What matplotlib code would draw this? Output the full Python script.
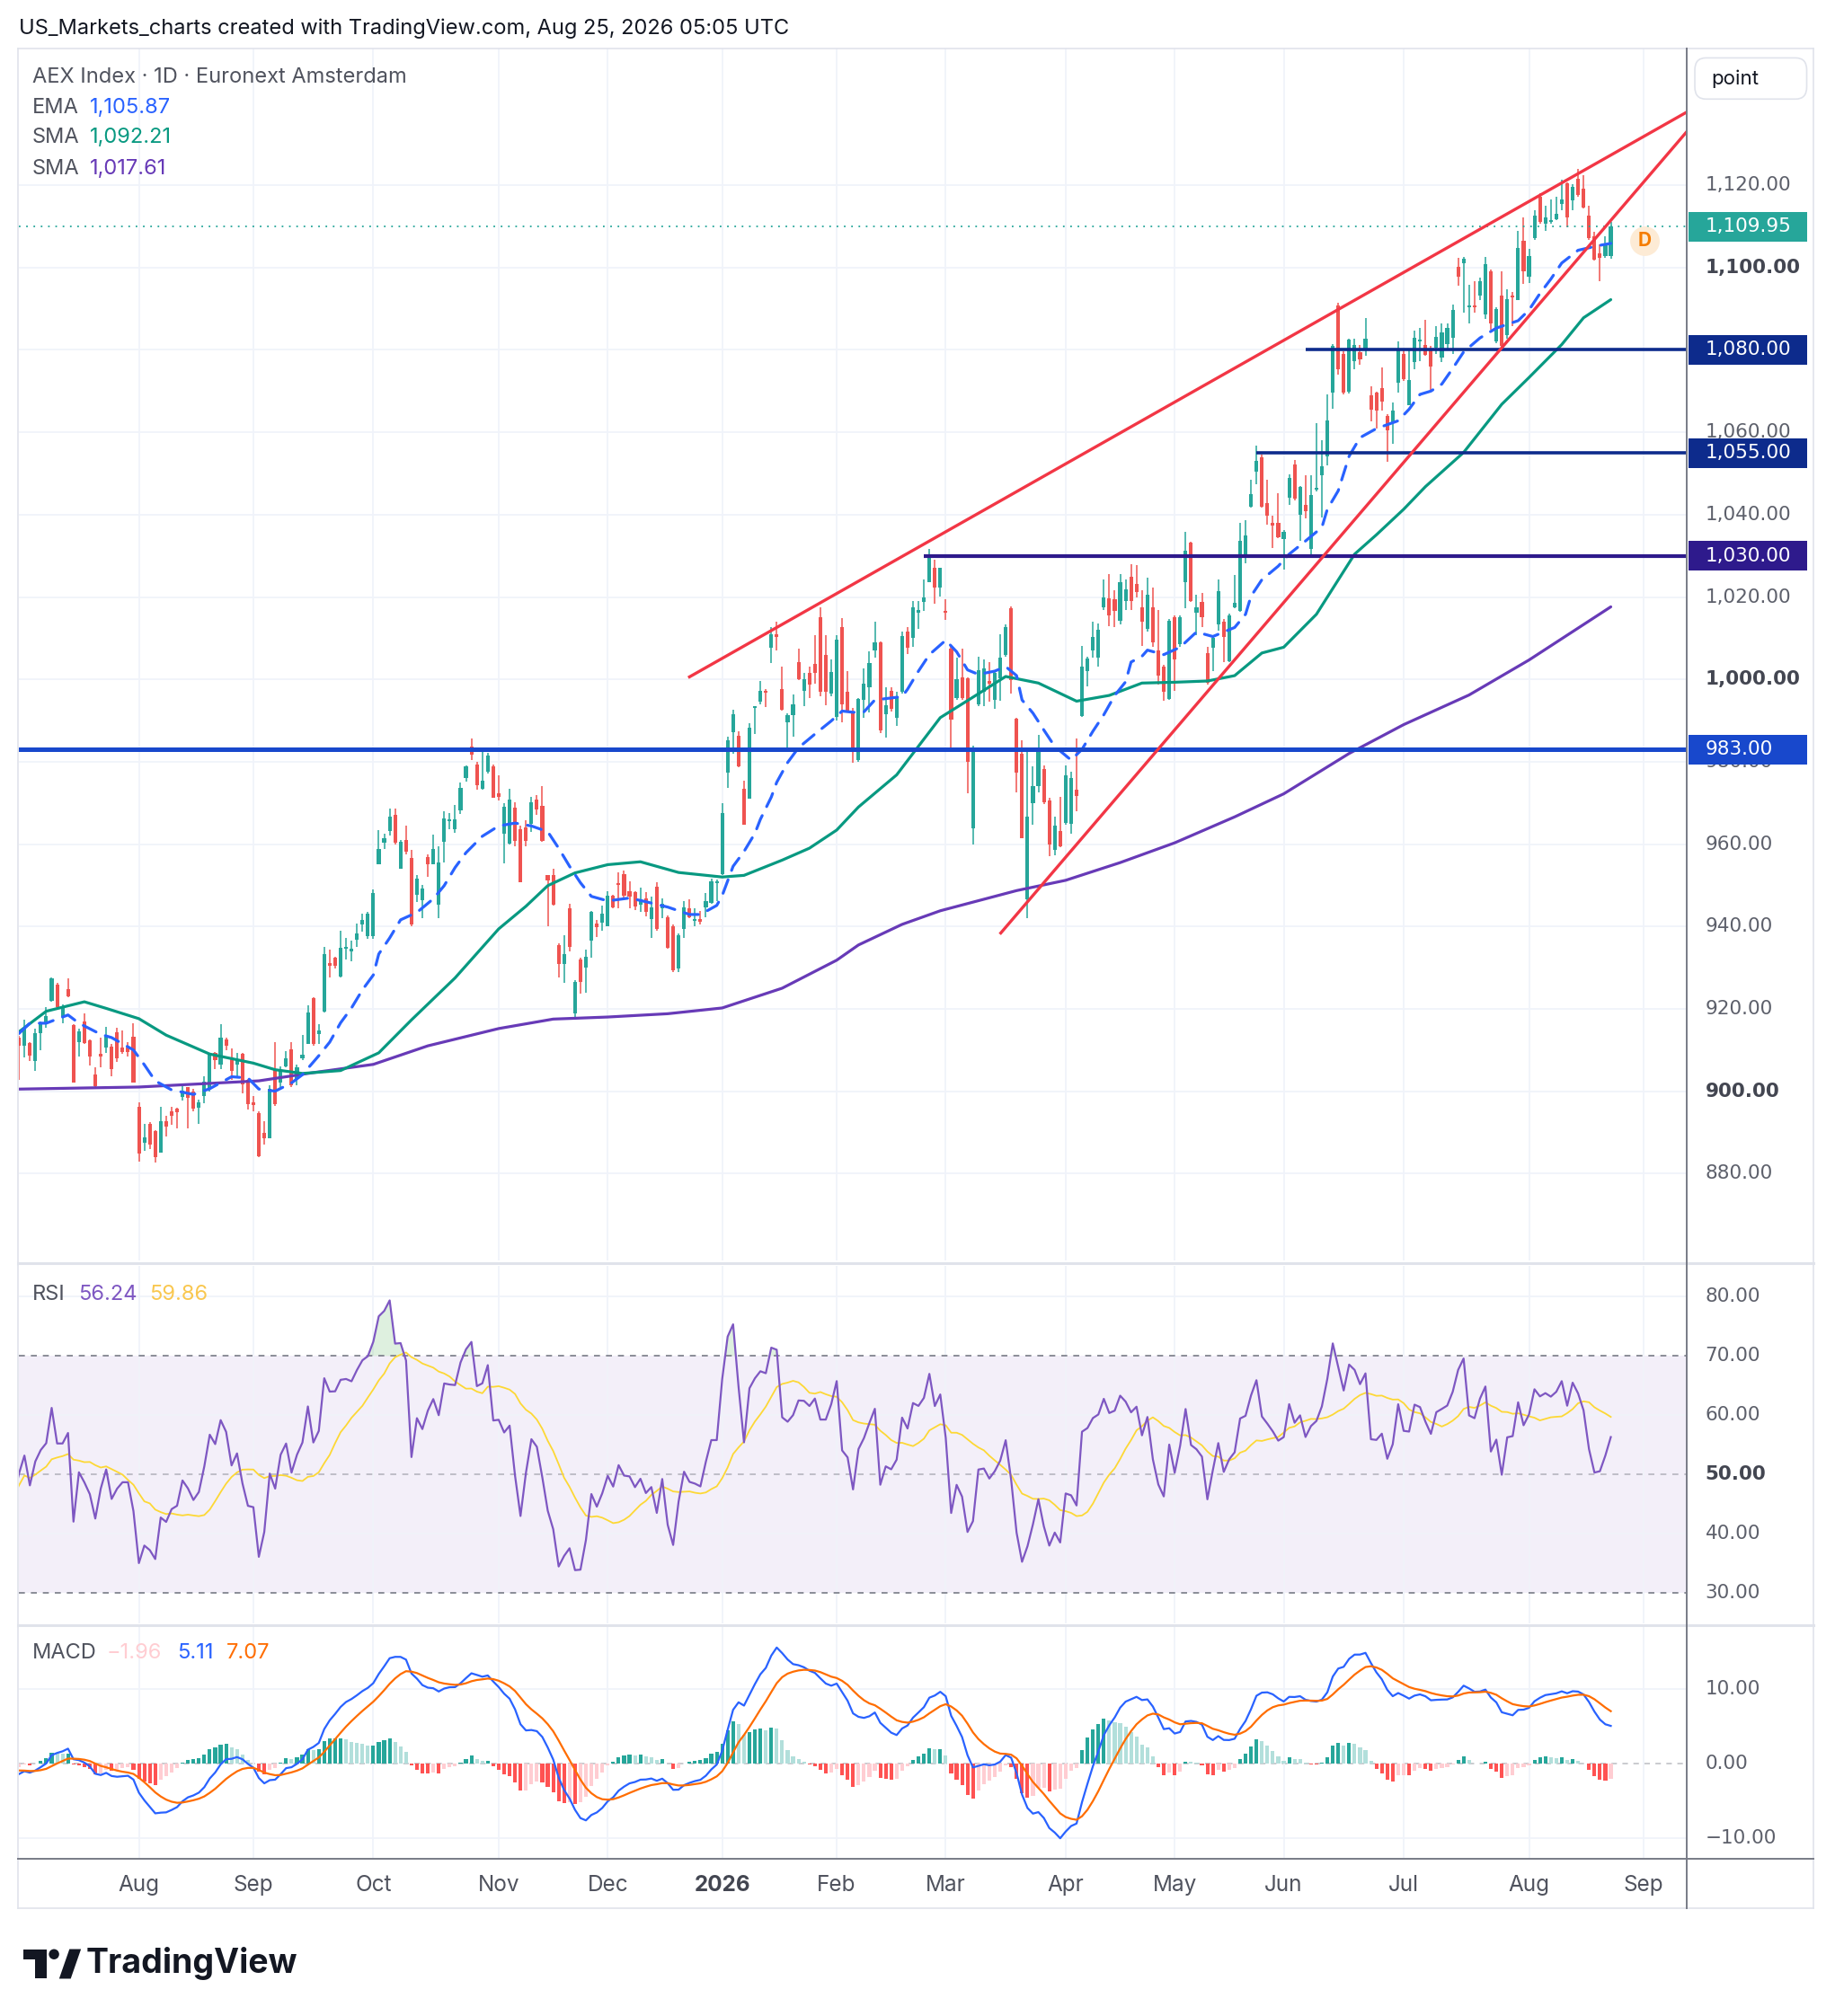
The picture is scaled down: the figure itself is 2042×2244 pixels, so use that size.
import numpy as np
import pandas as pd
import matplotlib
matplotlib.use("Agg")
import matplotlib.pyplot as plt
from matplotlib.patches import Rectangle, FancyBboxPatch, Ellipse, Polygon
from matplotlib.lines import Line2D

plt.rcParams['font.family'] = ['Inter', 'DejaVu Sans']

# daily bars, Jul 1 2025 .. Aug 24 2026 (trading-day index)
opens = [913, 912.9, 911.0, 911.7, 907.3, 914.0, 916.5, 922.0, 925.9, 918.0,
         924.8, 916.0, 912.0, 916.9, 912.3, 904.0, 909.0, 910.5, 910.9, 914.2,
         910.5, 910.5, 913.3, 896.3, 887.5, 892.0, 890.2, 885.0, 892.7, 895.2,
         895.7, 898.5, 900.9, 900.0, 896.0, 898.9, 900.3, 909.2, 906.4, 912.5,
         908.2, 906.5, 909.0, 902.8, 897.2, 894.7, 889.8, 888.6, 905.1, 902.0,
         906.0, 910.2, 903.0, 908.0, 911.5, 922.6, 913.8, 919.3, 931.0, 932.5,
         927.9, 934.5, 934.0, 936.8, 940.5, 937.7, 937.7, 955.0, 960.3, 963.1,
         967.2, 954.0, 960.9, 956.6, 947.7, 946.3, 956.8, 955.0, 945.2, 960.6,
         965.5, 963.5, 968.2, 976.0, 983.6, 979.3, 973.5, 977.6, 978.9, 972.3,
         962.6, 960.1, 968.8, 963.7, 964.0, 964.9, 970.9, 969.3, 952.5, 952.5,
         935.4, 930.9, 944.5, 918.8, 932.0, 930.1, 936.6, 940.7, 941.0, 940.1,
         947.5, 950.5, 952.8, 948.5, 948.4, 945.2, 946.9, 941.8, 949.7, 944.5,
         942.2, 940.0, 929.8, 939.3, 944.4, 941.3, 941.8, 944.6, 945.8, 950.5,
         952.8, 977.4, 987.1, 986.2, 973.4, 971.0, 993.0, 994.5, 997.0, 1007.7,
         1010.6, 997.7, 989.5, 991.3, 1004.2, 997.3, 1001.5, 1003.7, 1015.0, 1006.0,
         996.5, 990.9, 1012.6, 996.9, 992.1, 980.4, 995.0, 998.0, 1007.0, 1008.9,
         991.6, 997.2, 990.7, 997.0, 1011.7, 1010.0, 1016.2, 1018.8, 1023.7, 1027.0,
         1022.2, 1016.6, 1007.4, 995.4, 1000.5, 1000.3, 963.8, 993.9, 996.9, 999.5,
         995.0, 1000.2, 1006.0, 1017.3, 990.5, 982.0, 946.5, 970.0, 974.1, 978.2,
         970.6, 958.6, 963.1, 965.2, 965.0, 973.1, 991.0, 1002.0, 1007.0, 1005.3,
         1017.6, 1019.7, 1019.5, 1014.2, 1019.1, 1025.0, 1023.1, 1017.6, 1012.2, 1017.6,
         1007.1, 1003.1, 995.3, 1015.1, 1008.5, 1023.5, 1033.1, 1016.1, 1018.9, 1006.4,
         1007.6, 1013.3, 1013.9, 1004.5, 1017.6, 1016.7, 1029.9, 1042.0, 1050.4, 1054.0,
         1042.7, 1038.0, 1038.1, 1034.0, 1044.0, 1052.2, 1039.9, 1042.4, 1031.6, 1046.0,
         1049.6, 1054.2, 1069.6, 1090.7, 1079.0, 1069.8, 1077.3, 1079.4, 1080.2, 1069.0,
         1069.6, 1070.7, 1064.0, 1062.5, 1072.1, 1079.0, 1066.6, 1077.0, 1082.0, 1081.2,
         1080.4, 1080.5, 1078.2, 1081.4, 1082.9, 1100.2, 1101.0, 1090.3, 1090.8, 1093.3,
         1088.6, 1099.1, 1082.0, 1093.2, 1083.7, 1093.3, 1092.2, 1106.4, 1097.7, 1107.1,
         1117.3, 1110.7, 1111.0, 1111.7, 1115.4, 1120.4, 1116.4, 1121.6, 1119.2, 1112.7,
         1107.6, 1103.5, 1102.8, 1102.7]
highs = [914.5, 913.5, 917.3, 912.0, 915.2, 917.0, 920.5, 927.6, 926.2, 921.0,
         927.4, 916.3, 915.2, 918.8, 912.5, 905.7, 913.0, 915.7, 911.5, 915.4,
         914.7, 912.0, 916.5, 897.2, 892.0, 892.5, 890.5, 896.3, 894.0, 896.3,
         896.0, 901.7, 901.0, 900.5, 898.0, 903.6, 909.3, 909.5, 916.3, 913.0,
         910.4, 909.3, 909.3, 903.0, 898.8, 895.0, 892.7, 901.4, 912.0, 906.0,
         909.7, 912.0, 906.4, 913.6, 920.8, 922.8, 916.2, 935.1, 934.3, 932.6,
         938.9, 937.1, 936.5, 940.7, 943.2, 943.5, 949.0, 963.3, 962.6, 968.6,
         968.6, 961.0, 964.4, 958.6, 952.5, 950.0, 957.5, 962.3, 959.5, 967.9,
         967.5, 969.4, 975.0, 979.0, 985.6, 980.0, 982.4, 982.2, 979.3, 976.7,
         969.9, 973.5, 970.2, 964.5, 965.8, 971.5, 972.0, 974.0, 952.5, 954.0,
         936.0, 937.8, 945.6, 927.0, 932.3, 934.4, 943.8, 941.5, 945.1, 948.5,
         947.6, 953.1, 953.6, 951.0, 948.5, 949.5, 948.3, 947.3, 950.7, 946.9,
         942.6, 940.4, 938.2, 946.2, 946.6, 944.4, 943.7, 948.2, 951.7, 951.3,
         969.9, 986.0, 992.7, 987.3, 975.4, 989.3, 993.6, 999.5, 997.7, 1012.6,
         1013.9, 1003.0, 991.8, 996.4, 1007.5, 1001.6, 1003.0, 1010.8, 1017.4, 1010.8,
         1004.9, 1010.7, 1014.8, 1001.9, 993.0, 995.4, 1002.7, 1006.9, 1013.9, 1009.3,
         998.0, 998.1, 996.9, 1011.5, 1012.7, 1019.1, 1019.1, 1024.2, 1031.7, 1029.0,
         1027.2, 1019.5, 1008.2, 1005.3, 1007.4, 1000.5, 983.9, 1005.4, 1004.9, 1004.2,
         1002.0, 1011.0, 1013.3, 1017.8, 990.7, 985.1, 982.6, 978.9, 986.6, 979.0,
         971.3, 966.7, 971.5, 979.0, 977.5, 985.7, 1008.2, 1005.4, 1014.0, 1013.6,
         1024.2, 1025.5, 1021.7, 1025.5, 1024.2, 1027.9, 1027.7, 1021.6, 1024.6, 1022.4,
         1016.9, 1003.5, 1014.7, 1015.5, 1015.5, 1035.8, 1033.5, 1020.6, 1020.9, 1007.8,
         1010.4, 1024.2, 1014.7, 1016.0, 1025.3, 1037.9, 1038.6, 1048.5, 1056.7, 1054.5,
         1048.5, 1039.8, 1045.3, 1036.2, 1049.7, 1053.3, 1047.0, 1049.5, 1049.6, 1062.2,
         1058.0, 1069.2, 1081.5, 1091.4, 1079.6, 1082.7, 1082.7, 1081.2, 1087.8, 1071.1,
         1069.8, 1075.8, 1064.5, 1067.2, 1082.0, 1080.1, 1080.0, 1084.7, 1085.4, 1087.3,
         1081.0, 1085.7, 1086.5, 1086.4, 1091.1, 1102.4, 1102.6, 1095.8, 1096.6, 1097.5,
         1102.5, 1099.5, 1090.4, 1099.1, 1094.8, 1094.0, 1109.0, 1112.2, 1104.5, 1113.9,
         1118.0, 1115.1, 1116.6, 1117.1, 1121.3, 1120.6, 1120.2, 1124.0, 1122.4, 1115.1,
         1108.6, 1105.7, 1107.5, 1111.0]
lows = [904.5, 902.7, 908.2, 907.3, 905.0, 910.0, 915.5, 921.8, 920.0, 916.5,
        922.7, 902.0, 908.4, 911.5, 906.2, 901.0, 905.7, 909.2, 903.7, 907.0,
        909.0, 908.5, 902.0, 882.9, 885.5, 886.0, 882.6, 885.0, 889.0, 891.8,
        891.0, 897.8, 891.0, 895.0, 892.1, 897.0, 900.0, 905.3, 905.3, 910.0,
        902.8, 903.5, 899.5, 895.5, 895.0, 884.0, 887.0, 888.5, 896.5, 900.8,
        905.7, 901.0, 901.4, 907.5, 911.5, 911.0, 911.5, 919.0, 927.6, 929.8,
        927.6, 932.0, 931.5, 935.0, 938.7, 937.0, 937.0, 955.0, 958.8, 962.0,
        960.0, 954.0, 957.5, 940.1, 946.0, 942.0, 952.0, 955.0, 942.0, 955.6,
        963.7, 962.7, 967.3, 975.1, 980.3, 973.1, 973.3, 977.1, 971.3, 970.6,
        955.4, 960.0, 959.4, 950.7, 959.4, 963.0, 967.0, 960.5, 940.0, 945.0,
        927.5, 926.3, 934.0, 917.7, 923.6, 924.0, 932.3, 937.4, 938.9, 940.0,
        944.5, 944.4, 947.0, 944.4, 944.0, 943.6, 942.5, 937.1, 939.0, 942.0,
        934.5, 929.0, 929.0, 937.1, 942.0, 940.0, 940.4, 942.2, 945.5, 946.2,
        952.4, 973.6, 982.0, 978.7, 964.6, 971.0, 986.7, 994.0, 993.3, 1004.0,
        1007.0, 992.5, 982.3, 986.1, 999.8, 993.4, 995.5, 999.0, 995.8, 993.8,
        996.0, 989.9, 989.5, 992.0, 979.7, 980.0, 990.7, 992.0, 1005.3, 987.0,
        985.9, 992.1, 988.8, 996.5, 1006.1, 1007.8, 1012.2, 1016.6, 1023.6, 1018.4,
        1020.2, 1014.4, 983.4, 995.0, 995.0, 972.4, 960.0, 993.4, 993.6, 994.5,
        992.8, 994.7, 1005.4, 996.5, 972.6, 961.4, 942.0, 964.8, 972.5, 969.8,
        957.0, 957.2, 959.3, 964.8, 962.6, 968.0, 990.8, 998.3, 1005.3, 1003.2,
        1016.9, 1012.9, 1012.7, 1013.4, 1016.9, 1016.9, 1019.9, 1008.2, 1011.5, 1007.8,
        998.8, 994.8, 995.1, 997.3, 1007.8, 1017.3, 1018.7, 1010.7, 1012.6, 998.8,
        1002.0, 1011.8, 1004.2, 1004.2, 1017.2, 1016.5, 1028.2, 1041.6, 1047.4, 1041.7,
        1037.6, 1031.8, 1034.2, 1026.7, 1042.4, 1043.5, 1033.6, 1039.1, 1030.0, 1045.6,
        1039.4, 1052.0, 1065.6, 1074.0, 1069.2, 1069.5, 1075.4, 1076.4, 1078.5, 1062.7,
        1061.0, 1065.2, 1052.9, 1057.3, 1069.6, 1072.5, 1066.5, 1075.2, 1077.2, 1078.5,
        1070.0, 1079.1, 1077.0, 1080.0, 1079.1, 1095.5, 1089.0, 1086.4, 1089.0, 1092.0,
        1087.5, 1085.0, 1081.7, 1080.6, 1082.8, 1085.7, 1092.0, 1096.0, 1096.2, 1106.8,
        1110.7, 1109.0, 1110.7, 1111.5, 1114.0, 1109.7, 1113.9, 1117.3, 1114.3, 1106.8,
        1101.8, 1096.7, 1102.4, 1102.2]
closes = [906.0, 911.0, 915.1, 908.6, 914.0, 916.7, 918.3, 927.4, 920.5, 920.5,
          923.0, 902.1, 914.5, 911.7, 908.4, 901.2, 908.5, 913.6, 905.3, 907.9,
          909.5, 909.5, 902.1, 884.9, 888.7, 887.1, 884.0, 892.7, 891.4, 894.1,
          894.8, 900.1, 898.3, 895.7, 897.2, 902.2, 909.2, 907.5, 913.1, 911.1,
          905.0, 907.5, 901.7, 896.9, 896.6, 884.2, 888.5, 900.5, 896.9, 905.0,
          907.9, 901.4, 905.8, 908.9, 919.2, 911.5, 914.8, 933.3, 930.4, 930.5,
          934.7, 935.0, 934.6, 938.3, 941.6, 943.0, 948.1, 958.8, 961.4, 966.7,
          960.4, 960.6, 958.1, 940.4, 951.7, 949.3, 955.0, 958.8, 955.6, 966.2,
          966.0, 965.9, 973.7, 978.8, 981.8, 974.4, 975.3, 981.4, 971.3, 971.5,
          969.1, 970.8, 960.8, 950.7, 960.8, 970.2, 968.4, 960.8, 951.2, 945.2,
          930.9, 933.3, 935.0, 926.5, 926.6, 932.7, 943.6, 939.8, 943.1, 947.5,
          944.7, 950.0, 947.5, 947.3, 944.9, 946.6, 943.6, 944.7, 939.3, 945.5,
          934.9, 929.3, 937.8, 944.6, 942.2, 941.8, 941.2, 946.2, 951.0, 951.0,
          967.5, 985.1, 991.6, 978.9, 964.7, 988.2, 993.5, 997.3, 996.8, 1010.9,
          1010.4, 992.6, 991.3, 994.0, 1000.1, 1000.0, 998.8, 1001.5, 996.9, 996.9,
          1001.7, 1009.6, 994.0, 992.2, 983.4, 995.3, 998.9, 1004.0, 1009.0, 987.7,
          993.7, 992.8, 995.8, 1010.5, 1007.6, 1017.5, 1016.8, 1019.9, 1029.9, 1022.4,
          1027.0, 1016.1, 990.3, 1000.0, 995.4, 980.0, 983.5, 1002.3, 1002.7, 999.0,
          1001.6, 1005.3, 1012.7, 999.8, 977.4, 961.5, 966.6, 974.0, 983.0, 970.2,
          960.0, 964.4, 959.4, 976.8, 976.0, 971.7, 1003.2, 1005.1, 1010.2, 1012.0,
          1019.9, 1015.5, 1016.6, 1023.5, 1021.9, 1019.1, 1021.3, 1014.0, 1020.6, 1008.9,
          1000.9, 996.9, 1014.2, 1004.9, 1015.0, 1031.3, 1019.1, 1017.6, 1015.1, 999.1,
          1010.0, 1021.4, 1010.4, 1015.6, 1018.5, 1033.6, 1034.9, 1044.9, 1053.1, 1042.0,
          1039.7, 1037.3, 1034.5, 1035.8, 1048.9, 1043.8, 1046.7, 1040.9, 1044.8, 1046.6,
          1051.8, 1062.8, 1081.0, 1075.4, 1069.6, 1082.5, 1081.2, 1077.8, 1082.7, 1065.4,
          1065.2, 1067.4, 1060.5, 1065.2, 1080.1, 1072.9, 1072.7, 1082.9, 1082.3, 1078.8,
          1075.9, 1083.1, 1084.2, 1085.3, 1089.8, 1097.7, 1102.2, 1090.9, 1090.3, 1096.6,
          1100.8, 1086.4, 1090.0, 1080.9, 1092.4, 1092.8, 1104.7, 1099.1, 1102.9, 1112.6,
          1111.0, 1112.2, 1111.5, 1113.1, 1116.6, 1112.2, 1119.5, 1117.6, 1114.6, 1107.1,
          1102.0, 1102.3, 1105.7, 1109.95]

# moving averages (bar index, value)
ema_idx = [1, 3, 6, 10, 12, 16, 18, 22, 24, 26, 29, 33, 36, 40, 43, 45, 48, 51, 53, 56,
           58, 60, 62, 64, 66, 67, 69, 71, 74, 77, 79, 81, 83, 86, 89, 92, 95, 98, 100, 102,
           104, 106, 109, 113, 116, 120, 124, 126, 129, 130, 132, 134, 136, 137, 139, 140, 142, 144, 147, 150,
           152, 154, 156, 158, 163, 164, 166, 168, 171, 173, 175, 177, 180, 182, 184, 185, 187, 189, 191, 194,
           196, 198, 200, 202, 204, 205, 207, 208, 211, 214, 217, 220, 224, 226, 227, 229, 232, 234, 237, 240,
           241, 243, 244, 245, 247, 250, 254, 256, 258, 260, 262, 264, 266, 269, 272, 276, 278, 280, 282, 284,
           287, 291, 293]
ema_val = [914.0, 916.5, 916.5, 918.5, 916.5, 913.8, 913.0, 910.0, 906.4, 902.5, 900.3, 899.2, 900.6, 903.5, 903.2, 900.5, 900.0, 902.0, 904.0, 908.6,
           911.9, 916.6, 920.2, 924.6, 928.2, 933.3, 937.2, 941.6, 943.4, 946.7, 949.9, 954.3, 957.9, 961.9, 964.4, 965.1, 964.4, 963.0, 959.0, 954.6,
           950.6, 947.3, 946.2, 946.9, 946.0, 944.7, 942.9, 942.9, 945.1, 947.5, 954.6, 958.2, 962.6, 966.0, 971.4, 975.0, 979.8, 983.4, 986.7, 989.9,
           992.3, 992.0, 992.1, 995.0, 995.8, 997.6, 1002.0, 1006.0, 1009.5, 1006.7, 1002.3, 1001.2, 1002.0, 1003.1, 1000.9, 995.0, 991.8, 987.7, 983.7, 980.4,
           983.0, 987.4, 991.4, 996.1, 999.4, 1004.2, 1005.6, 1007.1, 1006.0, 1007.8, 1011.5, 1010.4, 1012.6, 1015.8, 1020.2, 1024.2, 1027.5, 1030.4, 1033.6, 1036.9,
           1041.3, 1045.8, 1050.0, 1054.2, 1058.7, 1060.9, 1062.8, 1065.6, 1069.2, 1070.0, 1071.7, 1075.5, 1079.5, 1082.9, 1085.3, 1087.1, 1089.7, 1093.7, 1097.2, 1101.1,
           1104.2, 1105.4, 1105.87]
sma50_idx = [1, 6, 13, 17, 23, 28, 36, 44, 48, 53, 60, 67, 73, 81, 89, 94, 98, 103, 109, 115,
             122, 130, 134, 141, 146, 151, 155, 162, 170, 177, 182, 188, 195, 201, 207, 213, 219, 224, 229, 233,
             239, 246, 250, 255, 259, 266, 273, 278, 284, 288, 293]
sma50_val = [914.4, 919.4, 921.7, 920.1, 917.6, 913.6, 909.0, 906.8, 905.2, 904.3, 905.0, 909.3, 917.3, 927.5, 939.4, 944.9, 949.9, 953.0, 955.0, 955.7,
             953.1, 952.0, 952.4, 956.1, 959.0, 963.4, 969.0, 976.8, 990.7, 996.5, 1000.7, 999.1, 994.7, 996.1, 999.1, 999.3, 999.6, 1000.9, 1006.4, 1007.8,
             1015.8, 1030.4, 1035.1, 1041.3, 1046.8, 1055.1, 1066.8, 1073.3, 1081.3, 1087.8, 1092.21]
sma200_idx = [1, 23, 45, 55, 66, 76, 89, 99, 109, 120, 130, 141, 151, 155, 163, 170, 184, 193, 203, 213,
              224, 233, 245, 255, 267, 278, 293]
sma200_val = [900.5, 901.0, 902.5, 904.5, 906.5, 911.0, 915.2, 917.5, 918.0, 918.8, 920.2, 925.0, 931.8, 935.5, 940.5, 943.8, 948.7, 951.2, 955.5, 960.3,
              966.6, 972.2, 982.0, 989.0, 996.2, 1004.7, 1017.61]

month_idx = [23, 44, 66, 89, 109, 130, 151, 171, 193, 213, 233, 255, 278, 299]
month_lbl = ["Aug", "Sep", "Oct", "Nov", "Dec", "2026", "Feb", "Mar", "Apr", "May", "Jun", "Jul", "Aug", "Sep"]

price_ticks = [880, 900, 920, 940, 960, 980, 1000, 1020, 1040, 1060, 1080, 1100, 1120]
rsi_ticks = [30, 40, 50, 60, 70, 80]
macd_ticks = [-10, 0, 10]

levels = [983, 1030, 1055, 1080]
level_start = [0, 166.9, 228, 237]
level_colors = ["#1848cc", "#2e1a8c", "#0d2b8c", "#0d2b8c"]
level_lw = [3.6, 3.0, 2.6, 2.6]

upper_line = ([124, 307], [1000.6, 1137.8])
lower_line = ([181.1, 307], [938.4, 1133.1])
last_price = 1109.95

# indicator seeds (state before the first visible bar)
rsi_seed = (2.4, 2.8)
macd_seed = (912.5, 913.5, -0.6)

GREEN = "#26a69a"
RED = "#ef5350"
GRID = "#f0f3fa"
TXT = "#131722"
LBL = "#5d606b"
XL = (1.06, 307.0)
AXF = "DejaVu Sans"   # wide digits like the TradingView price scale
AXS = 15.5

x = np.arange(len(closes))
o = np.array(opens); h = np.array(highs); l = np.array(lows); c = np.array(closes)

# RSI 14 (Wilder) + its 14 SMA
ag, al = rsi_seed
d = np.diff(c, prepend=c[0])
rsi = []
for dv in d:
    ag = (ag * 13 + max(dv, 0)) / 14
    al = (al * 13 + max(-dv, 0)) / 14
    rsi.append(100 - 100 / (1 + ag / al))
rsi = np.array(rsi)
rsi_ma = pd.Series(rsi).rolling(14, min_periods=1).mean().values

# MACD 12/26/9
e12, e26, sig = macd_seed
macd, signal = [], []
for cv in c:
    e12 += (cv - e12) * 2 / 13
    e26 += (cv - e26) * 2 / 27
    m = e12 - e26
    sig += (m - sig) * 2 / 10
    macd.append(m); signal.append(sig)
macd = np.array(macd); signal = np.array(signal)
hist = macd - signal
prev = np.concatenate([[hist[0]], hist[:-1]])
hcol = np.where(hist >= 0, np.where(hist >= prev, "#26a69a", "#b2dfdb"),
                np.where(hist < prev, "#ff5252", "#ffcdd2"))

W, H = 1427, 1567
def fx(px): return px / W
def fy(py): return 1 - py / H

fig = plt.figure(figsize=(20.42, 22.44), dpi=100)
axl = fx(15); axw = fx(1312) - fx(15)
ax = fig.add_axes([axl, fy(980), axw, fy(38) - fy(980)])
axr = fig.add_axes([axl, fy(1262), axw, fy(984) - fy(1262)])
axm = fig.add_axes([axl, fy(1445), axw, fy(1264) - fy(1445)])

for a, ticks in ((ax, price_ticks), (axr, [40, 60, 80]), (axm, [-10, 10])):
    a.set_xlim(*XL)
    a.set_xticks(month_idx)
    a.set_yticks(ticks)
    a.grid(True, color=GRID, lw=1.3, zorder=0)
    a.tick_params(length=0, labelleft=False, labelbottom=False)
    for s in a.spines.values():
        s.set_visible(False)

# ---- price pane
ax.set_ylim(858.8, 1153.1)
col = np.where(c >= o, GREEN, RED)
ax.vlines(x, l, h, colors=col, lw=1.1, zorder=3)
ax.bar(x, np.maximum(np.abs(c - o), 0.45), bottom=np.minimum(o, c), width=0.68,
       color=col, lw=0, zorder=4)

ax.plot(sma200_idx, sma200_val, color="#673ab7", lw=2.3, zorder=5, solid_capstyle="round")
ax.plot(sma50_idx, sma50_val, color="#089981", lw=2.3, zorder=5, solid_capstyle="round")
ax.plot(ema_idx, ema_val, color="#2962ff", lw=2.3, ls=(0, (5, 3.5)), zorder=5,
        dash_capstyle="round")

for lv, st, cl_, lw_ in zip(levels, level_start, level_colors, level_lw):
    ax.hlines(lv, st, XL[1], color=cl_, lw=lw_, zorder=6)
ax.plot(*upper_line, color="#f23645", lw=2.4, zorder=7)
ax.plot(*lower_line, color="#f23645", lw=2.4, zorder=7)
ax.axhline(last_price, color=GREEN, lw=1.3, ls=(0, (1, 3.5)), zorder=6)

ax.scatter([299.2], [1106.6], s=560, color="#fdebd5", zorder=8, lw=0)
ax.text(299.2, 1106.6, "D", color="#f57c00", fontsize=15, fontweight="bold",
        ha="center", va="center", zorder=9)

ytr = ax.get_yaxis_transform()
for t in price_ticks:
    ax.text(1.0108, t, f"{t:,.2f}", transform=ytr, ha="left", va="center", fontsize=AXS,
            family=AXF, color="#434651" if t % 100 == 0 else LBL,
            fontweight="bold" if t % 100 == 0 else "normal", clip_on=False, zorder=10)

def tag(a, v, text, color, hh):
    a.add_patch(Rectangle((1.0008, v - hh), 0.0709, 2 * hh, transform=a.get_yaxis_transform(),
                          fc=color, ec="none", clip_on=False, zorder=11))
    a.text(1.0108, v, text, transform=a.get_yaxis_transform(), ha="left", va="center",
           fontsize=AXS, family=AXF, color="white", clip_on=False, zorder=12)

tag(ax, last_price, f"{last_price:,.2f}", GREEN, 3.6)
tag(ax, 1080, "1,080.00", "#0d2b8c", 3.6)
tag(ax, 1055, "1,055.00", "#0d2b8c", 3.6)
tag(ax, 1030, "1,030.00", "#2e1a8c", 3.6)
tag(ax, 983, "983.00", "#1848cc", 3.6)

# legend block
LS = 17
fig.text(fx(25), fy(60), "AEX Index · 1D · Euronext Amsterdam", fontsize=LS, color="#50535e", va="center")
for yy, name, val, vc in ((84, "EMA", "1,105.87", "#2962ff"),
                          (107, "SMA", "1,092.21", "#089981"),
                          (131, "SMA", "1,017.61", "#673ab7")):
    fig.text(fx(25), fy(yy), name, fontsize=LS, color="#50535e", va="center")
    fig.text(fx(70), fy(yy), val, fontsize=LS, color=vc, va="center")

# ---- RSI pane
axr.set_ylim(24.8, 85.2)
axr.axhspan(30, 70, color="#7e57c2", alpha=0.09, lw=0, zorder=1)
axr.fill_between(x, rsi, 70, where=rsi > 70, interpolate=True, color="#4caf50", alpha=0.18, lw=0, zorder=2)
axr.fill_between(x, rsi, 30, where=rsi < 30, interpolate=True, color="#f44336", alpha=0.18, lw=0, zorder=2)
for lv, al_ in ((70, 1.0), (50, 0.5), (30, 1.0)):
    axr.axhline(lv, color="#787b86", lw=1.2, ls=(0, (4, 4)), alpha=al_, zorder=2)
axr.plot(x, rsi_ma, color="#fdd835", lw=1.3, zorder=3)
axr.plot(x, rsi, color="#7e57c2", lw=1.6, zorder=4)
for t in rsi_ticks:
    axr.text(1.0108, t, f"{t:.2f}", transform=axr.get_yaxis_transform(), ha="left", va="center",
             fontsize=AXS, family=AXF, color="#434651" if t == 50 else LBL,
             fontweight="bold" if t == 50 else "normal", clip_on=False)
fig.text(fx(25), fy(1006), "RSI", fontsize=LS, color="#50535e", va="center")
fig.text(fx(61), fy(1006), "56.24", fontsize=LS, color="#7e57c2", va="center")
fig.text(fx(116), fy(1006), "59.86", fontsize=LS, color="#f9c74f", va="center")

# ---- MACD pane
axm.set_ylim(-12.76, 18.45)
axm.axhline(0, color="#787b86", lw=1.1, ls=(0, (4, 4)), alpha=0.5, zorder=1)
axm.bar(x, hist, width=0.68, color=hcol, lw=0, zorder=2)
axm.plot(x, macd, color="#2962ff", lw=1.6, zorder=3)
axm.plot(x, signal, color="#ff6d00", lw=1.6, zorder=3)
for t in macd_ticks:
    axm.text(1.0108, t, f"{t:.2f}".replace("-", "\u2212"), transform=axm.get_yaxis_transform(),
             ha="left", va="center", fontsize=AXS, family=AXF, color=LBL, clip_on=False)
fig.text(fx(25), fy(1285), "MACD", fontsize=LS, color="#50535e", va="center")
fig.text(fx(83), fy(1285), "\u22121.96", fontsize=LS, color="#ffcdd2", va="center")
fig.text(fx(138), fy(1285), "5.11", fontsize=LS, color="#2962ff", va="center")
fig.text(fx(176), fy(1285), "7.07", fontsize=LS, color="#ff6d00", va="center")

# date axis
axm.tick_params(labelbottom=True, pad=13, labelsize=17.5, labelcolor="#50535e")
axm.set_xticklabels(month_lbl)
for tl, lab in zip(axm.get_xticklabels(), month_lbl):
    if lab == "2026":
        tl.set_fontweight("bold")
        tl.set_color("#434651")

# frame, separators, right axis
def fline(x0, y0, x1, y1, color, lw):
    fig.add_artist(Line2D([fx(x0), fx(x1)], [fy(y0), fy(y1)], color=color, lw=lw, zorder=20))

fline(14, 38, 1410, 38, "#e0e3eb", 1.2)
fline(14, 1483, 1410, 1483, "#e0e3eb", 1.2)
fline(14, 38, 14, 1483, "#e0e3eb", 1.2)
fline(1410, 38, 1410, 1483, "#e0e3eb", 1.2)
fline(14, 982, 1410, 982, "#e0e3eb", 2.2)
fline(14, 1263, 1410, 1263, "#e0e3eb", 2.2)
fline(14, 1445, 1410, 1445, "#787b86", 1.4)
fline(1312, 38, 1312, 1483, "#787b86", 1.4)

fig.add_artist(FancyBboxPatch((fx(1318), fy(77)), fx(1405) - fx(1318), fy(45) - fy(77),
                              boxstyle="round,pad=0,rounding_size=0.006", fc="white",
                              ec="#e0e3eb", lw=1.2, transform=fig.transFigure))
fig.text(fx(1331), fy(61), "point", fontsize=16, color=TXT, va="center")

fig.text(fx(15), fy(22), "US_Markets_charts created with TradingView.com, Aug 25, 2026 05:05 UTC",
         fontsize=17, color=TXT, va="center")

# TradingView logo
logo = "#131722"
fig.add_artist(Rectangle((fx(18), fy(1523)), fx(36) - fx(18), fy(1515) - fy(1523), fc=logo, ec="none",
                         transform=fig.transFigure))
fig.add_artist(Rectangle((fx(27), fy(1538)), fx(36) - fx(27), fy(1515) - fy(1538), fc=logo, ec="none",
                         transform=fig.transFigure))
fig.add_artist(Ellipse((fx(42), fy(1519)), 8 / W, 8 / H, fc=logo, ec="none", transform=fig.transFigure))
fig.add_artist(Polygon([(fx(46), fy(1538)), (fx(55), fy(1538)), (fx(63), fy(1515)), (fx(54), fy(1515))],
                       closed=True, fc=logo, ec="none", transform=fig.transFigure))
fig.text(fx(67), fy(1526), "TradingView", fontsize=27, fontweight="bold", color=logo, va="center")

fig.savefig("out.png", dpi=100, facecolor="white")
